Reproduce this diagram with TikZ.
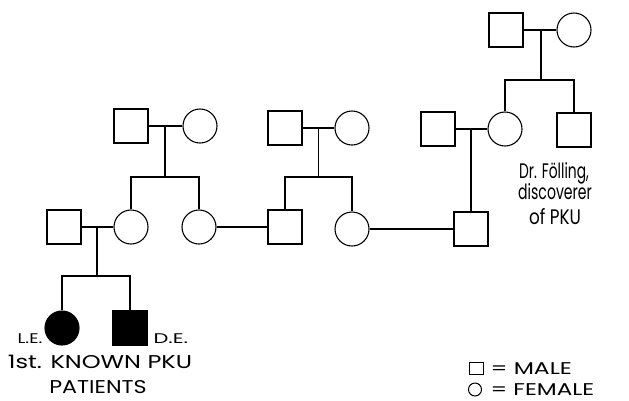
\documentclass[tikz,border=0pt]{standalone}
\usepackage{fontspec}
\usepackage{graphicx}
\setmainfont{Poppins}
\usetikzlibrary{calc}
\newcommand{\hsc}[2]{\scalebox{#1}[1]{#2}}
\begin{document}
\begin{tikzpicture}[x=1pt,y=-1pt, line width=1.1pt,
  male/.style={draw, rectangle, minimum size=34pt, inner sep=0pt},
  female/.style={draw, circle, minimum size=34pt, inner sep=0pt},
  affected/.style={fill=black},
  lbl/.style={inner sep=0pt, anchor=base},
  capsbig/.style={font=\fontsize{18.5}{20}\selectfont},
  lower/.style={font=\fontsize{21}{22}\selectfont},
  small/.style={font=\fontsize{14}{16}\selectfont},
  legend/.style={font=\fontsize{17}{18}\selectfont, text depth=0pt},
  legsym/.style={draw, line width=1pt, inner sep=0pt}]
\useasboundingbox (0,0) rectangle (629,400);
% Generation I
\node[male] (A1) at (506,30) {};
\node[female] (A2) at (574,30) {};
% Generation II
\node[male] (B1) at (131,126) {};
\node[female] (B2) at (200,126) {};
\node[male] (B3) at (285,128) {};
\node[female] (B4) at (352,128) {};
\node[male] (B5) at (438,129) {};
\node[female] (B6) at (505,129) {};
\node[male] (B7) at (574,130) {};
% Generation III
\node[male] (C1) at (64,227) {};
\node[female] (C2) at (131,227) {};
\node[female] (C3) at (199,227) {};
\node[male] (C4) at (285,227) {};
\node[female] (C5) at (352,229) {};
\node[male] (C6) at (471,229) {};
% Generation IV
\node[female,affected] (D1) at (62,328) {};
\node[male,affected] (D2) at (130,328) {};
% junctions
\coordinate (jA) at (541,30);  \coordinate (sA) at (541,80);
\coordinate (jB) at (165,126); \coordinate (sB) at (165,177);
\coordinate (jC) at (318.5,128); \coordinate (sC) at (318.5,177);
\coordinate (jD) at (471,129);
\coordinate (jE) at (97,227);  \coordinate (sE) at (97,276);
% couple lines
\draw (A1) -- (A2);
\draw (B1) -- (B2);
\draw (B3) -- (B4);
\draw (B5) -- (B6);
\draw (C1) -- (C2);
\draw (C3) -- (C4);
\draw (C5) -- (C6);
% descent lines
\draw (jA) -- (sA);
\draw (B6.north) |- (sA) -| (B7.north);
\draw (jB) -- (sB);
\draw (C2.north) |- (sB) -| (C3.north);
\draw (jC) -- (sC);
\draw (C4.north) |- (sC) -| (C5.north);
\draw (jD) -- (C6.north);
\draw (jE) -- (sE);
\draw (D1.north) |- (sE) -| (D2.north);
% labels
\node[lbl, small, anchor=base east] (le) at (43,343) {\hsc{1.3}{L.E.}};
\node[lbl, small, anchor=base west] (de) at (153,343) {\hsc{1.5}{D.E.}};
\node[lbl, capsbig] (t1) at (100,368) {\hsc{1.3}{1st. KNOWN PKU}};
\node[lbl, capsbig] (t2) at (98,393) {\hsc{1.2}{PATIENTS}};
\node[lbl, lower] (f1) at (554,178) {\hsc{0.66}{Dr. Fölling,}};
\node[lbl, lower] (f2) at (555,199) {\hsc{0.67}{discoverer}};
\node[lbl, lower] (f3) at (555,224) {\hsc{0.8}{of PKU}};
% legend
\node[legsym, minimum width=14pt, minimum height=12pt] (lsq) at (476,368) {};
\node[lbl, legend, anchor=base west] (lm) at (490,374) {\hsc{1.38}{= MALE}};
\node[legsym, circle, minimum size=13pt] (lci) at (475,389.5) {};
\node[lbl, legend, anchor=base west] (lf) at (490,395.5) {\hsc{1.36}{= FEMALE}};
\end{tikzpicture}
\end{document}
